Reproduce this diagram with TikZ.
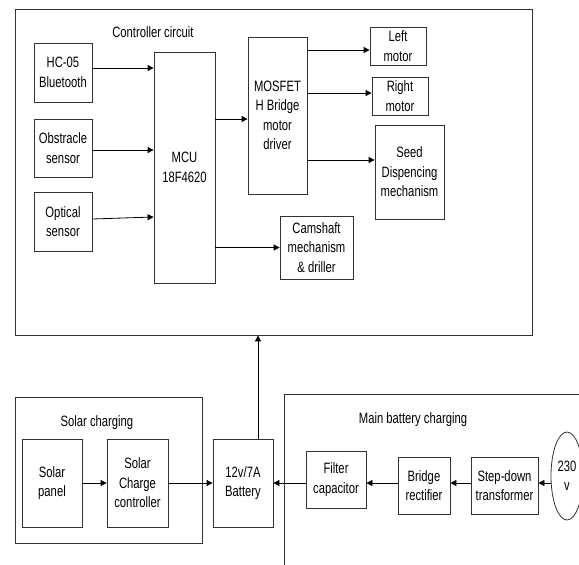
\documentclass[tikz,border=0pt]{standalone}
\usepackage{fontspec}
\setmainfont[FakeStretch=0.75]{Liberation Sans}
\usepackage{tikz}
\usetikzlibrary{positioning, arrows.meta, calc, shapes.geometric}

\begin{document}
\begin{tikzpicture}[x=1pt, y=-1pt,
    blk/.style={draw=black!80, line width=0.8pt, rectangle, inner sep=0pt, align=center,
        font=\fontsize{15}{19.5}\selectfont},
    lbl/.style={inner sep=0pt, font=\fontsize{15}{19.5}\selectfont},
    arr/.style={draw=black, line width=0.8pt, -{Triangle[length=6pt,width=6pt]}}]
\useasboundingbox (0,0) rectangle (579,565);

% controller circuit
\node[blk, minimum width=517, minimum height=326] (ctrl) at (273.5,172) {};
\node[lbl] (ctrltxt) at (153,32) {Controller circuit};

\node[blk, minimum width=58, minimum height=59] (hc) at (63,72.5) {HC-05\\Bluetooth};
\node[blk, minimum width=58, minimum height=58] (obs) at (63,148) {Obstracle\\sensor};
\node[blk, minimum width=58, minimum height=59] (opt) at (63,221.5) {Optical\\sensor};
\node[blk, minimum width=61, minimum height=231] (mcu) at (184.5,167.5) {MCU\\18F4620};
\node[blk, minimum width=59, minimum height=157] (mos) at (277.5,115.5) {MOSFET\\H Bridge\\motor\\driver};
\node[blk, minimum width=56, minimum height=38] (lm) at (398,46) {Left\\motor};
\node[blk, minimum width=56, minimum height=38] (rm) at (400,96) {Right\\motor};
\node[blk, minimum width=69, minimum height=94] (seed) at (409.5,172) {Seed\\Dispencing\\mechanism};
\node[blk, minimum width=73, minimum height=63] (cam) at (316.5,247.5) {Camshaft\\mechanism\\\& driller};

\draw[arr] (hc.east |- 0,68) -- (mcu.west |- 0,68);
\draw[arr] (obs.east |- 0,150) -- (mcu.west |- 0,150);
\draw[arr] (opt.east |- 0,219) -- (mcu.west |- 0,217);
\draw[arr] (mcu.east |- 0,119) -- (mos.west |- 0,119);
\draw[arr] (mcu.east |- cam.west) -- (cam.west);
\draw[arr] (mos.east |- 0,50) -- (lm.west |- 0,50);
\draw[arr] (mos.east |- 0,93) -- (rm.west |- 0,93);
\draw[arr] (mos.east |- 0,160) -- (seed.west |- 0,160);

% solar charging
\node[blk, minimum width=187, minimum height=146] (solar) at (108.5,470) {};
\node[lbl] (solartxt) at (97,423) {Solar charging};
\node[blk, minimum width=60, minimum height=88] (spanel) at (52,483) {Solar\\panel};
\node[blk, minimum width=61, minimum height=88] (sctrl) at (137.5,483) {Solar\\Charge\\controller};
\node[blk, minimum width=60, minimum height=88] (bat) at (243,483) {12v/7A\\Battery};

\draw[arr] (spanel.east) -- (sctrl.west);
\draw[arr] (sctrl.east) -- (bat.west);
\draw[arr] ([xshift=15]bat.north) -- ([xshift=15]bat.north |- ctrl.south);

% main battery charging
\draw[draw=black!80, line width=0.8pt] (579,394) -- (284,394) -- (284,565);
\node[lbl] (maintxt) at (413,420) {Main battery charging};
\node[blk, minimum width=60, minimum height=57] (filt) at (336,479.5) {Filter\\capacitor};
\node[blk, minimum width=52, minimum height=57] (bri) at (424,485.5) {Bridge\\rectifier};
\node[blk, minimum width=67, minimum height=57] (stp) at (504.5,485.5) {Step-down\\transformer};
\node[blk, ellipse, minimum width=32, minimum height=88] (ac) at (567,476) {230\\v};

\draw[arr] (filt.west |- bat.east) -- (bat.east);
\draw[arr] (bri.west |- 0,483) -- (filt.east |- 0,483);
\draw[arr] (stp.west |- 0,483) -- (bri.east |- 0,483);
\draw[arr] (ac.west |- 0,483) -- (stp.east |- 0,483);
\end{tikzpicture}
\end{document}
